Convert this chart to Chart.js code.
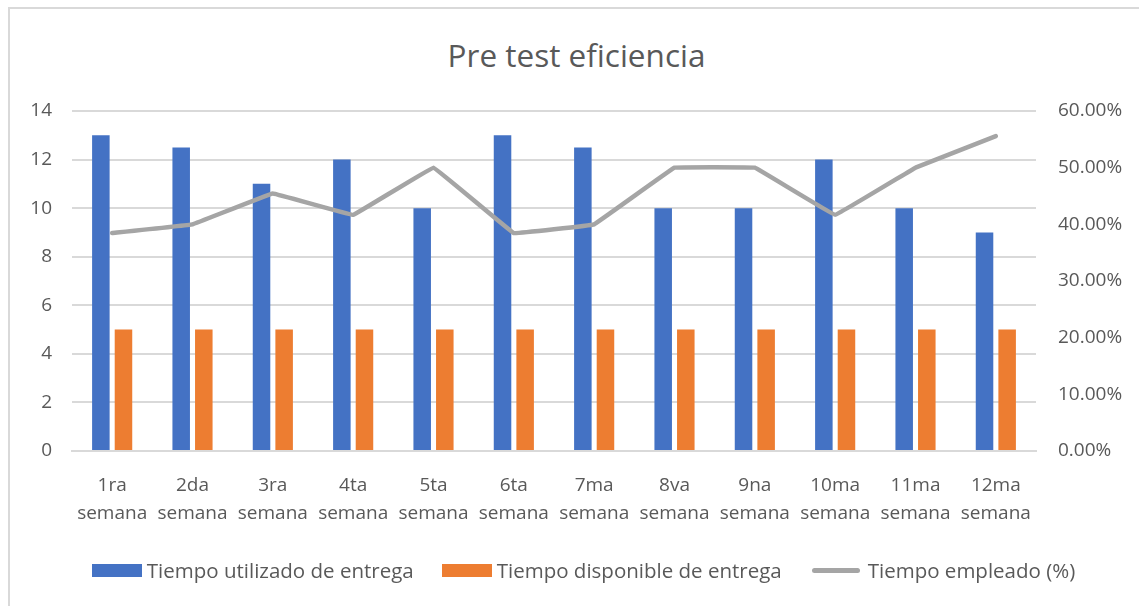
<!DOCTYPE html>
<html>
<head>
<meta charset="utf-8">
<script src="https://cdn.jsdelivr.net/npm/chart.js@4/dist/chart.umd.min.js"></script>
<style>
  html, body { margin:0; padding:0; background:#fff; }
  #wrap { position:relative; width:1139px; height:606px; overflow:hidden; font-family:"Open Sans", sans-serif; color:#595959; }
  #frame { position:absolute; left:8px; top:7px; right:0; bottom:0; border-top:2px solid #d9d9d9; border-left:2px solid #d9d9d9; }
  #title { position:absolute; left:7px; top:35px; width:1139px; text-align:center; font-size:31.5px; line-height:40px; color:#595959; }
  #legend { position:absolute; left:14px; top:556px; width:1139px; display:flex; justify-content:center; gap:28px; font-size:20.5px; line-height:28px; }
  .item { display:flex; align-items:center; }
  .sw { display:inline-block; width:50px; height:13px; margin-right:5px; }
  .ln { display:inline-block; width:48px; height:5px; border-radius:3px; margin:0 8px 0 2px; }
  canvas { position:absolute; left:0; top:0; }
</style>
</head>
<body>
<div id="wrap">
  <div id="frame"></div>
  <div id="title">Pre test eficiencia</div>
  <canvas id="c" width="1139" height="606"></canvas>
  <div id="legend"></div>
</div>
<script>
// weekly delivery times (left axis) and percentage used (right axis)
var semanas = [['1ra','semana'],['2da','semana'],['3ra','semana'],['4ta','semana'],['5ta','semana'],['6ta','semana'],
               ['7ma','semana'],['8va','semana'],['9na','semana'],['10ma','semana'],['11ma','semana'],['12ma','semana']];
var tiempoUtilizado  = [13, 12.5, 11, 12, 10, 13, 12.5, 10, 10, 12, 10, 9];
var tiempoDisponible = [5, 5, 5, 5, 5, 5, 5, 5, 5, 5, 5, 5];
var tiempoEmpleado   = [38.46, 40, 45.45, 41.67, 50, 38.46, 40, 50, 50, 41.67, 50, 55.56];

var nombres = ['Tiempo utilizado de entrega','Tiempo disponible de entrega','Tiempo empleado (%)'];
var colores = ['#4472c4','#ed7d31','#a5a5a5'];

var tickFont = {family:'"Open Sans", sans-serif', size:19, lineHeight:1.5};

new Chart(document.getElementById('c'), {
  type:'bar',
  data:{
    labels:semanas,
    datasets:[
      {label:nombres[0], data:tiempoUtilizado, backgroundColor:colores[0], yAxisID:'y', order:2,
       barPercentage:0.775, categoryPercentage:0.563},
      {label:nombres[1], data:tiempoDisponible, backgroundColor:colores[1], yAxisID:'y', order:2,
       barPercentage:0.775, categoryPercentage:0.563},
      {type:'line', label:nombres[2], data:tiempoEmpleado, borderColor:colores[2], borderWidth:4.5,
       borderCapStyle:'round', borderJoinStyle:'round', tension:0.03, pointRadius:0, yAxisID:'y1', order:1}
    ]
  },
  options:{
    responsive:false, animation:false,
    layout:{padding:{left:0, right:0, top:111, bottom:0}},
    plugins:{legend:{display:false}, title:{display:false}, tooltip:{enabled:false}},
    scales:{
      x:{
        grid:{display:false, drawTicks:false},
        border:{display:true, color:'#d9d9d9', width:2},
        ticks:{color:'#595959', font:tickFont, padding:20, maxRotation:0, autoSkip:false},
        afterFit:function(s){ s.height = 155; }
      },
      y:{
        position:'left', min:0, max:14,
        grid:{color:'#d9d9d9', lineWidth:2, drawTicks:false},
        border:{display:false},
        ticks:{stepSize:2, color:'#595959', font:tickFont, padding:20},
        afterFit:function(s){ s.width = 72; }
      },
      y1:{
        position:'right', min:0, max:60,
        grid:{display:false, drawTicks:false},
        border:{display:false},
        ticks:{stepSize:10, color:'#595959', font:tickFont, padding:22,
               callback:function(v){ return v.toFixed(2) + '%'; }},
        afterFit:function(s){ s.width = 103; }
      }
    }
  }
});

// legend row under the chart
var leg = document.getElementById('legend');
nombres.forEach(function(n, i){
  var sw = i < 2 ? '<span class="sw" style="background:'+colores[i]+'"></span>'
                 : '<span class="ln" style="background:'+colores[i]+'"></span>';
  leg.innerHTML += '<div class="item">'+sw+'<span>'+n+'</span></div>';
});
</script>
</body>
</html>
